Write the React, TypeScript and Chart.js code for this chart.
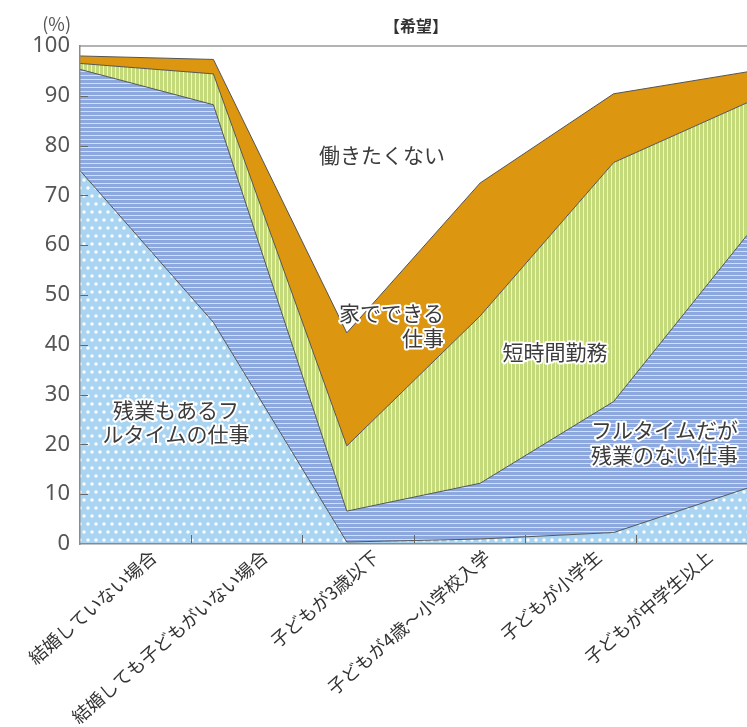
import React, { useEffect, useRef } from 'react';
import { Chart, registerables } from 'chart.js';
Chart.register(...registerables);

const categories = [
  '結婚していない場合',
  '結婚しても子どもがいない場合',
  '子どもが3歳以下',
  '子どもが4歳～小学校入学',
  '子どもが小学生',
  '子どもが中学生以上',
];
const seriesNames = ['残業もあるフルタイムの仕事', 'フルタイムだが残業のない仕事', '短時間勤務', '家でできる仕事', '働きたくない'];
const overtimeFull = [75.0, 44.5, 0.4, 1.0, 2.3, 11.2];
const fullNoOvertime = [20.3, 43.7, 6.2, 11.2, 26.3, 50.8];
const shortHours = [1.2, 6.2, 13.1, 33.6, 48.0, 26.6];
const workFromHome = [1.5, 2.9, 22.7, 26.7, 13.8, 6.2];
const notWorking = [2.0, 2.7, 57.6, 27.5, 9.6, 5.2];
const yMin = 0;
const yMax = 100;
const yStep = 10;
const chartTitle = '【希望】';
const unitLabel = '(%)';

const FONT = '"Noto Sans CJK JP", "Noto Sans", sans-serif';

function makePattern(kind: string): CanvasPattern | string {
  const c = document.createElement('canvas');
  const ctx = c.getContext('2d');
  if (!ctx) return '#ccc';
  if (kind === 'dots') {
    c.width = 16; c.height = 16;
    ctx.fillStyle = '#a9d5f2';
    ctx.fillRect(0, 0, 16, 16);
    ctx.fillStyle = '#ffffff';
    const pts = [[4, 4], [12, 4], [0, 12], [8, 12], [16, 12]];
    for (const [x, y] of pts) {
      ctx.beginPath();
      ctx.arc(x, y, 1.7, 0, Math.PI * 2);
      ctx.fill();
    }
  } else if (kind === 'hstripe') {
    c.width = 4; c.height = 4;
    ctx.fillStyle = '#8ca8de';
    ctx.fillRect(0, 0, 4, 4);
    ctx.fillStyle = '#d4def4';
    ctx.fillRect(0, 3, 4, 1);
  } else if (kind === 'vstripe') {
    c.width = 4; c.height = 4;
    ctx.fillStyle = '#c4da7a';
    ctx.fillRect(0, 0, 4, 4);
    ctx.fillStyle = '#eef4d2';
    ctx.fillRect(3, 0, 1, 4);
  }
  const p = ctx.createPattern(c, 'repeat');
  return p || '#ccc';
}

function haloText(ctx: CanvasRenderingContext2D, text: string, x: number, y: number, align: CanvasTextAlign) {
  ctx.textAlign = align;
  ctx.textBaseline = 'middle';
  ctx.lineJoin = 'round';
  ctx.strokeStyle = '#ffffff';
  ctx.lineWidth = 4;
  ctx.strokeText(text, x, y);
  ctx.fillStyle = '#3c3c3c';
  ctx.fillText(text, x, y);
}

const decorPlugin = {
  id: 'decor',
  afterDatasetsDraw(chart: any) {
    const { ctx, chartArea } = chart;
    const yS = chart.scales.y;
    ctx.save();
    // top frame
    ctx.strokeStyle = '#9a9a9a';
    ctx.lineWidth = 1.5;
    ctx.beginPath();
    ctx.moveTo(chartArea.left, chartArea.top);
    ctx.lineTo(chartArea.right, chartArea.top);
    ctx.stroke();
    // inward ticks
    ctx.strokeStyle = '#666';
    ctx.lineWidth = 1;
    for (let v = yMin + yStep; v < yMax; v += yStep) {
      const y = Math.round(yS.getPixelForValue(v)) + 0.5;
      ctx.beginPath();
      ctx.moveTo(chartArea.left, y);
      ctx.lineTo(chartArea.left + 8, y);
      ctx.stroke();
    }
    const n = categories.length;
    const w = (chartArea.right - chartArea.left) / n;
    for (let i = 1; i < n; i++) {
      const x = Math.round(chartArea.left + w * i) + 0.5;
      ctx.beginPath();
      ctx.moveTo(x, chartArea.bottom);
      ctx.lineTo(x, chartArea.bottom - 9);
      ctx.stroke();
    }
    // title & unit
    ctx.fillStyle = '#333';
    ctx.font = `bold 16px ${FONT}`;
    ctx.textAlign = 'center';
    ctx.textBaseline = 'middle';
    ctx.fillText(chartTitle, 416, 26);
    ctx.fillStyle = '#555';
    ctx.font = `18px ${FONT}`;
    ctx.textAlign = 'right';
    ctx.fillText(unitLabel, 71, 24);
    // annotations
    ctx.font = `21px ${FONT}`;
    haloText(ctx, '働きたくない', 382, 155, 'center');
    haloText(ctx, '家でできる', 444, 313, 'right');
    haloText(ctx, '仕事', 444, 338, 'right');
    haloText(ctx, '短時間勤務', 555, 352, 'center');
    haloText(ctx, '残業もあるフ', 176, 410, 'center');
    haloText(ctx, 'ルタイムの仕事', 176, 434, 'center');
    haloText(ctx, 'フルタイムだが', 591, 430, 'left');
    haloText(ctx, '残業のない仕事', 591, 455, 'left');
    ctx.restore();
  },
};

export default function App() {
  const ref = useRef<HTMLCanvasElement | null>(null);
  useEffect(() => {
    if (!ref.current) return;
    const fills = [makePattern('dots'), makePattern('hstripe'), makePattern('vstripe'), '#dc960f', '#ffffff'];
    const values = [overtimeFull, fullNoOvertime, shortHours, workFromHome, notWorking];
    const chart = new Chart(ref.current, {
      type: 'line',
      data: {
        labels: categories,
        datasets: values.map((vals, i) => ({
          label: seriesNames[i],
          data: vals,
          xAxisID: 'x',
          yAxisID: 'y',
          backgroundColor: fills[i] as any,
          borderColor: '#555',
          borderWidth: i === 4 ? 0 : 1,
          fill: i === 0 ? 'origin' : '-1',
          pointRadius: 0,
          tension: 0,
        })),
      },
      options: {
        animation: false,
        responsive: false,
        layout: { padding: { top: 46, left: 0, right: 0, bottom: 0 } },
        plugins: { legend: { display: false }, tooltip: { enabled: false }, title: { display: false } },
        scales: {
          x: { type: 'category', display: false, offset: false },
          xl: {
            type: 'category',
            labels: categories,
            position: 'bottom',
            offset: true,
            grid: { display: false, drawTicks: false, offset: true },
            border: { display: true, color: '#8a8a8a', width: 1.5, z: 1 },
            ticks: {
              autoSkip: false,
              minRotation: 41,
              maxRotation: 41,
              color: '#333',
              padding: 2,
              labelOffset: 18,
              font: { family: FONT, size: 18 },
            },
            afterFit: (s: any) => { s.height = 183; },
          },
          y: {
            stacked: true,
            min: yMin,
            max: yMax,
            grid: { display: false, drawTicks: false },
            border: { display: true, color: '#8a8a8a', width: 1.5, z: 1 },
            ticks: {
              stepSize: yStep,
              color: '#555',
              padding: 10,
              font: { family: '"Noto Sans", sans-serif', size: 22 },
            },
            afterFit: (s: any) => { s.width = 80; },
          },
        },
      } as any,
      plugins: [decorPlugin],
    });
    return () => chart.destroy();
  }, []);
  return (
    <div style={{ position: 'absolute', left: 0, top: 0, width: 747, height: 727, background: '#fff' }}>
      <canvas ref={ref} width={747} height={727} style={{ display: 'block' }} />
    </div>
  );
}
